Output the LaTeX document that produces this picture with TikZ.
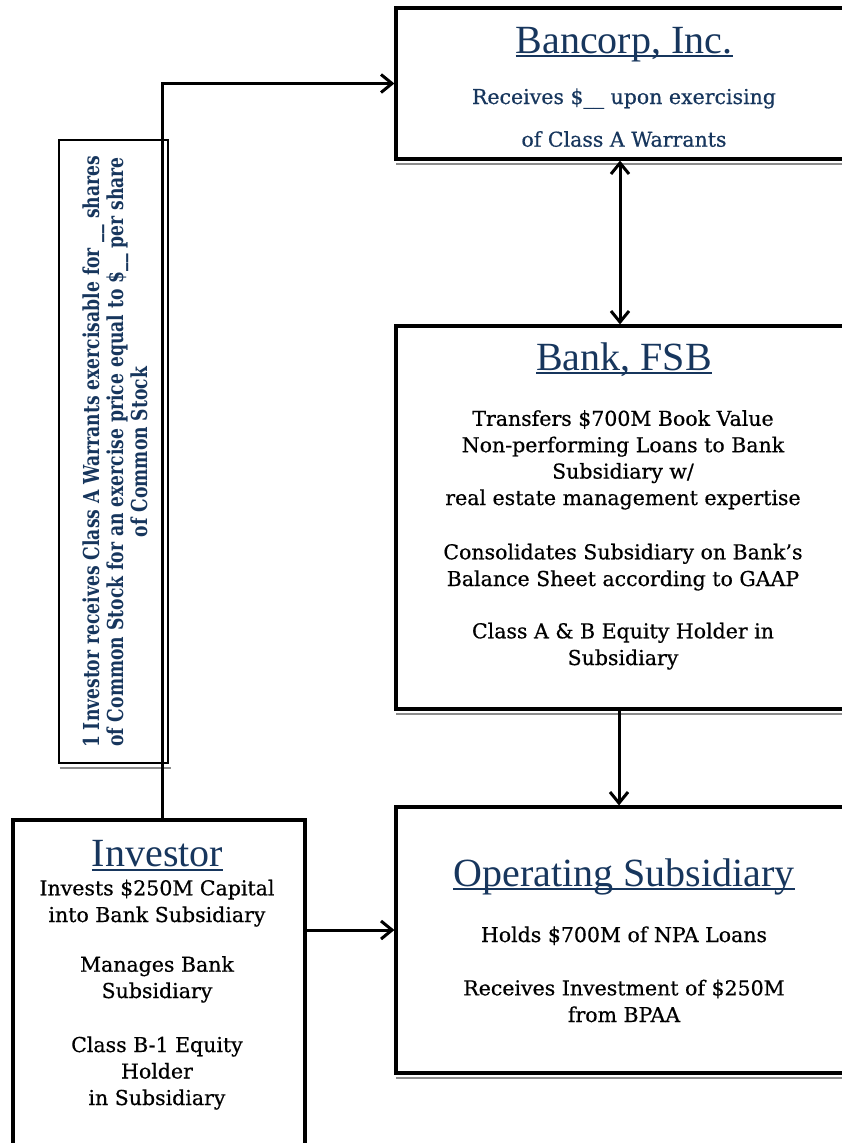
\documentclass[tikz,border=0pt]{standalone}
\usepackage{fontspec}
\setmainfont[FakeBold=0.6]{DejaVu Serif}
\newfontfamily\titlefont{Liberation Serif}
\newfontfamily\warfont[FakeStretch=0.78]{DejaVu Serif}
\usetikzlibrary{arrows.meta}
\definecolor{navy}{RGB}{23,54,93}
\begin{document}
\begin{tikzpicture}[x=1pt,y=-1pt,
  box/.style={draw, line width=3.2pt, rectangle, inner sep=0pt},
  shadowline/.style={draw=black!45, line width=1.8pt},
  title/.style={font=\titlefont\fontsize{40}{40}\selectfont, text=navy, inner sep=0pt, anchor=base},
  uline/.style={draw=navy, line width=1.6pt},
  body/.style={align=center, inner sep=0pt, anchor=base},
  wtext/.style={font=\warfont\bfseries\fontsize{22}{24}\selectfont, text=navy, rotate=90, inner sep=0pt, anchor=base},
  conn/.style={line width=3pt},
  tip/.tip={Straight Barb[length=11pt,width=18pt]},
  arr/.style={conn, -tip},
]
\useasboundingbox (0,0) rectangle (842,1143);
\clip (0,0) rectangle (842,1143);

% boxes
\node[box, minimum width=456, minimum height=151] (bancorp) at (624,83.5) {};
\node[box, minimum width=456, minimum height=383] (bank) at (624,517.5) {};
\node[box, minimum width=456, minimum height=266] (opsub) at (624,940) {};
\node[box, minimum width=292, minimum height=340] (investor) at (159,990) {};
\node[box, line width=2.8pt, minimum width=109, minimum height=623] (warrant) at (113.5,451.5) {};

% shadows
\foreach \b in {bancorp,bank,opsub,warrant}
  \draw[shadowline] ([shift={(2,3.2)}]\b.south west) -- ([shift={(2,3.2)}]\b.south east);

% Bancorp (base anchor = last line's baseline)
\node[title] (tbancorp) at (624,53.3) {Bancorp, Inc.};
\draw[uline] ([shift={(0,2.8)}]tbancorp.base west) -- ([shift={(0,2.8)}]tbancorp.base east);
\node[body, text=navy, font=\fontsize{20.5}{42.7}\selectfont] (pbancorp) at (624,146.7) {Receives \$\_\_ upon exercising\\of Class A Warrants};

% Bank
\node[title] (tbank) at (624,370) {Bank, FSB};
\draw[uline] ([shift={(0,2.8)}]tbank.base west) -- ([shift={(0,2.8)}]tbank.base east);
\node[body, font=\fontsize{20.5}{26.4}\selectfont] (pbank1) at (623,505) {Transfers \$700M Book Value\\Non-performing Loans to Bank\\Subsidiary w/\\real estate management expertise};
\node[body, font=\fontsize{20.5}{26.7}\selectfont] (pbank2) at (623,586) {Consolidates Subsidiary on Bank's\\Balance Sheet according to GAAP};
\node[body, font=\fontsize{20.5}{26.7}\selectfont] (pbank3) at (623,665) {Class A \& B Equity Holder in\\Subsidiary};

% Operating Subsidiary
\node[title] (topsub) at (624,886) {Operating Subsidiary};
\draw[uline] ([shift={(0,3)}]topsub.base west) -- ([shift={(0,3)}]topsub.base east);
\node[body, font=\fontsize{20.5}{26.7}\selectfont] (popsub1) at (624,942) {Holds \$700M of NPA Loans};
\node[body, font=\fontsize{20.5}{26.7}\selectfont] (popsub2) at (624,1022) {Receives Investment of \$250M\\from BPAA};

% Investor
\node[title] (tinvestor) at (157.5,866.7) {Investor};
\draw[uline] ([shift={(0,3)}]tinvestor.base west) -- ([shift={(0,3)}]tinvestor.base east);
\node[body, font=\fontsize{20.5}{26.7}\selectfont] (pinv1) at (157,922) {Invests \$250M Capital\\into Bank Subsidiary};
\node[body, font=\fontsize{20.5}{26.3}\selectfont] (pinv2) at (157,998) {Manages Bank\\Subsidiary};
\node[body, font=\fontsize{20.5}{26.5}\selectfont] (pinv3) at (157,1105) {Class B-1 Equity\\Holder\\in Subsidiary};

% rotated warrant text
\node[wtext] (w1) at (99,452) {1 Investor receives Class A Warrants exercisable for \_\_ shares};
\node[wtext] (w2) at (123,452) {of Common Stock for an exercise price equal to \$\_\_ per share};
\node[wtext] (w3) at (147,452) {of Common Stock};

% connectors
\coordinate (bend) at (162,83.5);
\draw[arr] (investor.north -| bend) -- (bend) -- (bancorp.west);
\draw[conn, tip-tip] ([xshift=-4]bancorp.south) -- ([xshift=-4]bank.north);
\draw[arr] ([xshift=-5]bank.south) -- ([xshift=-5]opsub.north);
\draw[arr] ([shift={(0,-60)}]investor.east) -- ([shift={(0,-10)}]opsub.west);
\end{tikzpicture}
\end{document}
